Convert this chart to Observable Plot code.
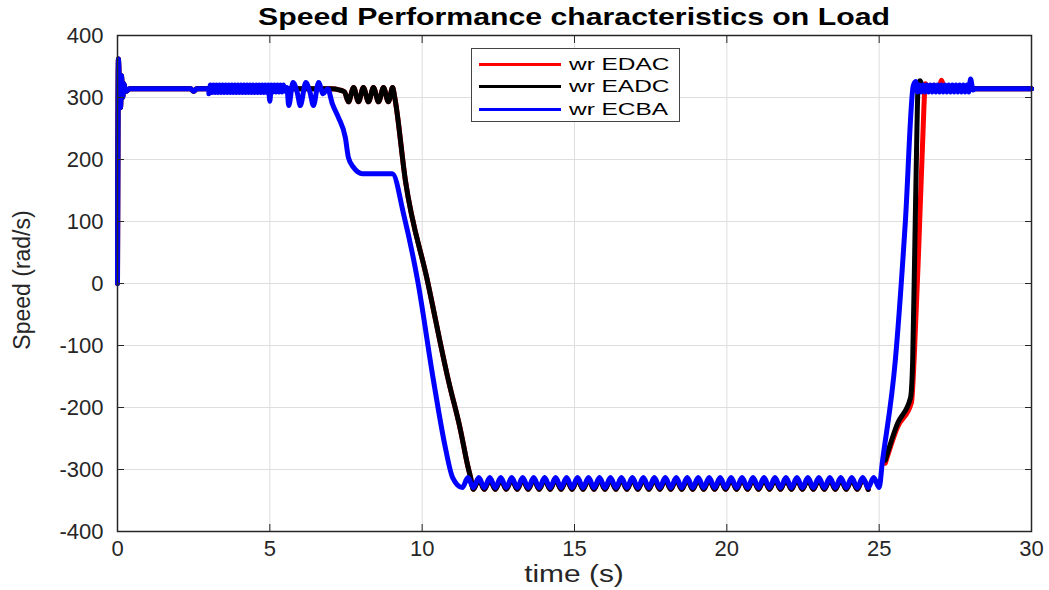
<!DOCTYPE html>
<html><head><meta charset="utf-8">
<script src="https://cdn.jsdelivr.net/npm/d3@7"></script>
<script src="https://cdn.jsdelivr.net/npm/@observablehq/plot@0.6"></script>
<style>
body{margin:0;background:#fff;}
#wrap{position:relative;width:1049px;height:590px;font-family:"Liberation Sans",Arial,sans-serif;color:#262626;}
#title{position:absolute;left:117px;width:914px;top:3px;text-align:center;font-weight:bold;font-size:24px;color:#000;transform:scaleX(1.26);transform-origin:457px 0;white-space:nowrap;}
#xlabel{position:absolute;left:117px;width:914px;top:561px;text-align:center;font-size:23px;transform:scaleX(1.3);transform-origin:457px 0;}
#ylabel{position:absolute;left:22px;top:280px;transform:translate(-50%,-50%) rotate(-90deg);font-size:23px;white-space:nowrap;}
#legend{position:absolute;left:471px;top:48px;width:209px;height:74px;border:1px solid #444;background:#fff;box-sizing:border-box;}
.row{position:absolute;left:7px;height:22px;display:flex;align-items:center;}
.sw{width:82px;height:3px;margin-right:8px;}
.lt{font-size:16.5px;color:#000;display:inline-block;transform:scaleX(1.48);transform-origin:0 50%;}
</style></head>
<body><div id="wrap"><div id="chart"></div>
<div id="title">Speed Performance characteristics on Load</div>
<div id="xlabel">time (s)</div>
<div id="ylabel">Speed (rad/s)</div>
<div id="legend"></div>
</div>
<script>
const xTicks = [0, 5, 10, 15, 20, 25, 30];
const yTicks = [-400, -300, -200, -100, 0, 100, 200, 300, 400];
const seriesNames = ["wr EDAC", "wr EADC", "wr ECBA"];
const seriesColors = ["#ff0000", "#000000", "#0000ff"];

// shared start-up transient and steady state
const startup = [[0,0],[0.03,362],[0.07,300],[0.1,284],[0.13,335],[0.17,300],[0.21,322],[0.27,310],[0.4,314],[2.4,314],[2.5,310],[2.6,314],[3.0,314]];

// ECBA (blue) 3 s .. 11 s
const ecbaMid = [[3.0,306],[3.05,320],[3.1,308],[3.15,320],[3.2,308],[3.25,320],[3.3,308],[3.35,320],[3.4,308],[3.45,320],[3.5,308],[3.55,320],[3.6,308],[3.65,320],[3.7,308],[3.75,320],[3.8,308],[3.85,320],[3.9,308],[3.95,320],[4.0,308],[4.05,320],[4.1,308],[4.15,320],[4.2,308],[4.25,320],[4.3,308],[4.35,320],[4.4,308],[4.45,320],[4.5,308],[4.55,320],[4.6,308],[4.65,320],[4.7,308],[4.75,320],[4.8,308],[4.85,320],[4.9,308],[4.95,320],
[5.0,294],[5.05,320],[5.1,309],[5.15,320],[5.2,309],[5.25,320],[5.3,309],[5.35,320],[5.4,309],[5.45,320],[5.5,310],[5.56,316],[5.62,287],[5.76,324],[5.9,308],[6.0,287],[6.18,324],[6.32,308],[6.43,287],[6.6,324],[6.75,306],[6.9,314],[7.05,290],[7.25,268],[7.48,235],[7.58,203],[7.75,187],[8.04,177],[9.02,177],[9.4,110],[9.85,5],[10.37,-156],[10.75,-262],[11.0,-313]];

// low-speed oscillation sample times
const lowTimes = [11.32,11.50,11.68,11.86,12.04,12.22,12.40,12.58,12.76,12.94,
13.12,13.30,13.48,13.66,13.84,14.02,14.20,14.38,14.56,14.74,
14.92,15.10,15.28,15.46,15.64,15.82,16.00,16.18,16.36,16.54,
16.72,16.90,17.08,17.26,17.44,17.62,17.80,17.98,18.16,18.34,
18.52,18.70,18.88,19.06,19.24,19.42,19.60,19.78,19.96,20.14,
20.32,20.50,20.68,20.86,21.04,21.22,21.40,21.58,21.76,21.94,
22.12,22.30,22.48,22.66,22.84,23.02,23.20,23.38,23.56,23.74,
23.92,24.10,24.28,24.46,24.64,24.82,25.00];
const ecbaLow = [-329,-313,-329,-313,-329,-313,-329,-313,-329,-313,
-329,-313,-329,-313,-329,-313,-329,-313,-329,-313,
-329,-313,-329,-313,-329,-313,-329,-313,-329,-313,
-329,-313,-329,-313,-329,-313,-329,-313,-329,-313,
-329,-313,-329,-313,-329,-313,-329,-313,-329,-313,
-329,-313,-329,-313,-329,-313,-329,-313,-329,-313,
-329,-313,-329,-313,-329,-313,-329,-313,-329,-313,
-329,-313,-329,-313,-329,-313,-329];
// EADC / EDAC low oscillation, from 11.68 s on
const eadcLow = [-332,-316,-332,-316,-332,-316,-332,-316,
-332,-316,-332,-316,-332,-316,-332,-316,-332,-316,
-332,-316,-332,-316,-332,-316,-332,-316,-332,-316,
-332,-316,-332,-316,-332,-316,-332,-316,-332,-316,
-332,-316,-332,-316,-332,-316,-332,-316,-332,-316,
-332,-316,-332,-316,-332,-316,-332,-316,-332,-316,
-332,-316,-332,-316,-332,-316,-332,-316,-332,-316,
-332,-316,-332,-316,-332];

const ecbaTail = [[25.1,-290],[25.53,-124],[25.86,100],[26.12,319],[26.2,326],
[26.26,309],[26.32,320],[26.38,309],[26.44,320],[26.5,309],[26.56,320],[26.62,309],[26.68,320],[26.74,309],[26.8,320],[26.86,309],[26.92,320],[26.98,309],[27.04,320],[27.1,309],[27.16,320],[27.22,309],[27.28,320],[27.34,309],[27.4,320],[27.46,309],[27.52,320],[27.58,309],[27.64,320],[27.7,309],[27.76,320],[27.82,309],[27.88,320],[27.94,309],
[28.0,330],[28.08,312],[28.15,314],[30,314]];

const eadcMid = [[7.0,314],[7.3,312],[7.45,309],[7.58,293],[7.75,316],[7.91,293],[8.07,316],[8.24,293],[8.4,316],[8.57,293],[8.73,316],[8.89,293],[9.03,316],[9.1,300],[9.45,166],[10.17,5],[10.86,-156],[11.26,-237],[11.5,-295],[11.59,-313]];
const eadcTail = [[25.2,-285],[25.6,-226],[26.03,-184],[26.1,-124],[26.17,60],[26.24,250],[26.28,322],[26.35,327],[26.45,312],[26.6,318],[26.8,312],[27.0,318],[27.2,313],[27.5,316],[28.0,314],[30,314]];
const edacTail = [[25.2,-290],[25.6,-232],[26.06,-192],[26.15,-120],[26.3,60],[26.42,220],[26.52,322],[26.65,312],[26.8,320],[26.95,312],[27.05,328],[27.15,313],[27.3,318],[27.5,314],[30,314]];

const ecba = [...startup, ...ecbaMid, ...lowTimes.map((t,i)=>[t, ecbaLow[i]]), ...ecbaTail];
const eadcLowPts = lowTimes.slice(2).map((t,i)=>[t, eadcLow[i]]);
const eadc = [...startup, ...eadcMid, ...eadcLowPts, ...eadcTail];
const edac = [...startup, ...eadcMid, ...eadcLowPts, ...edacTail];
const seriesData = [edac, eadc, ecba];

const font = '"Liberation Sans", Arial, sans-serif';
const lineOpts = (c) => ({x: d=>d[0], y: d=>d[1], stroke: c, strokeWidth: 5, curve: "monotone-x", strokeLinejoin: "round", strokeLinecap: "round"});

const chart = Plot.plot({
  width: 1049, height: 590,
  marginLeft: 117, marginRight: 18, marginTop: 35, marginBottom: 59,
  style: {fontFamily: font, fontSize: "22px", color: "#262626", background: "white", overflow: "visible"},
  x: {domain: [0, 30], label: null},
  y: {domain: [-400, 400], label: null},
  marks: [
    Plot.gridX(xTicks, {stroke: "#dedede", strokeOpacity: 1, strokeWidth: 1}),
    Plot.gridY(yTicks, {stroke: "#dedede", strokeOpacity: 1, strokeWidth: 1}),
    ...seriesData.map((d, i) => Plot.line(d, lineOpts(seriesColors[i]))),
    Plot.frame({stroke: "#262626", strokeWidth: 1.5}),
    Plot.axisX({ticks: xTicks, anchor: "bottom", tickSize: -7, tickPadding: 16, tickFormat: d => String(d), fontSize: 22, label: null, stroke: "#262626"}),
    Plot.axisX({ticks: xTicks, anchor: "top", tickSize: -7, tickFormat: () => "", label: null, stroke: "#262626"}),
    Plot.axisY({ticks: yTicks, anchor: "left", tickSize: -7, tickPadding: 21, tickFormat: d => String(d), fontSize: 22, label: null, stroke: "#262626"}),
    Plot.axisY({ticks: yTicks, anchor: "right", tickSize: -7, tickFormat: () => "", label: null, stroke: "#262626"})
  ]
});
document.getElementById("chart").appendChild(chart);

const leg = document.getElementById("legend");
const rowTops = [4, 26, 49];
seriesNames.forEach((n, i) => {
  const r = document.createElement("div");
  r.className = "row"; r.style.top = rowTops[i] + "px";
  r.innerHTML = `<div class="sw" style="background:${seriesColors[i]}"></div><span class="lt">${n}</span>`;
  leg.appendChild(r);
});
</script>
</body></html>
